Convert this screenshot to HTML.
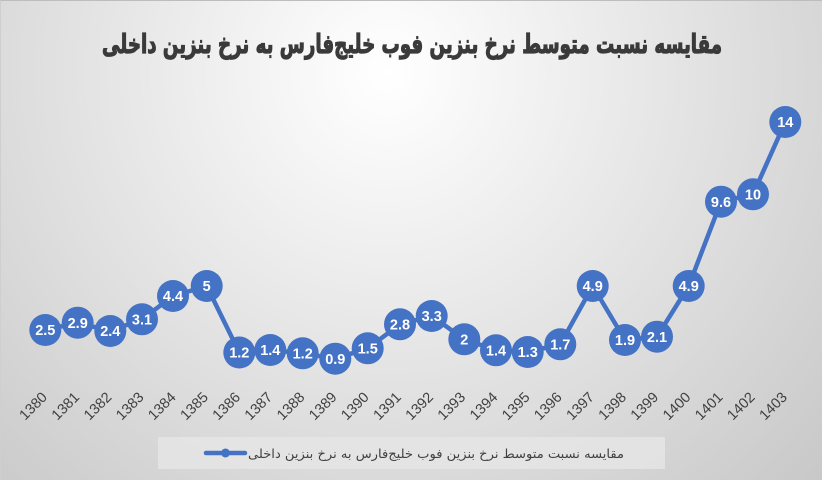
<!DOCTYPE html>
<html><head><meta charset="utf-8"><style>
html,body{margin:0;padding:0;}
body{width:822px;height:480px;overflow:hidden;}
.chart{position:relative;width:822px;height:480px;box-sizing:border-box;border-top:1px solid #bdbdbd;border-left:1px solid #cfcfcf;
background:radial-gradient(circle farthest-corner at 47% 15%, #ffffff 0%, #fbfbfb 8%, #c8c8c8 100%);}
svg{position:absolute;left:0;top:0;}
</style></head><body><div class="chart">
<svg width="822" height="480" viewBox="0 0 822 480" xmlns="http://www.w3.org/2000/svg">
<text x="411" y="52" text-anchor="middle" direction="rtl" font-family="DejaVu Sans, sans-serif" font-weight="bold" font-size="26" fill="#3a3a3a" stroke="#3a3a3a" stroke-width="1.2" textLength="620" lengthAdjust="spacingAndGlyphs">مقایسه نسبت متوسط نرخ بنزین فوب خلیج‌فارس به نرخ بنزین داخلی</text>
<polyline fill="none" stroke="#4472c4" stroke-width="4.5" stroke-linejoin="round" points="44.3,329 76.7,321.7 109.3,330 141,318.3 172,295 205.7,285 238.3,351.5 269.3,349 301.7,352.3 334.3,357.7 366.7,347.3 399,323.3 430.7,315 463.3,338.3 495,349.3 526.7,351 559.3,343.3 591.7,285 624,339 656,335.7 687.7,285 720,200.7 752,193.3 784.3,121"/>
<g fill="#4472c4">
<circle cx="44.3" cy="329" r="16"/><circle cx="76.7" cy="321.7" r="16"/><circle cx="109.3" cy="330" r="16"/><circle cx="141" cy="318.3" r="16"/><circle cx="172" cy="295" r="16"/><circle cx="205.7" cy="285" r="16"/><circle cx="238.3" cy="351.5" r="16"/><circle cx="269.3" cy="349" r="16"/><circle cx="301.7" cy="352.3" r="16"/><circle cx="334.3" cy="357.7" r="16"/><circle cx="366.7" cy="347.3" r="16"/><circle cx="399" cy="323.3" r="16"/><circle cx="430.7" cy="315" r="16"/><circle cx="463.3" cy="338.3" r="16"/><circle cx="495" cy="349.3" r="16"/><circle cx="526.7" cy="351" r="16"/><circle cx="559.3" cy="343.3" r="16"/><circle cx="591.7" cy="285" r="16"/><circle cx="624" cy="339" r="16"/><circle cx="656" cy="335.7" r="16"/><circle cx="687.7" cy="285" r="16"/><circle cx="720" cy="200.7" r="16"/><circle cx="752" cy="193.3" r="16"/><circle cx="784.3" cy="121" r="16"/>
</g>
<g fill="#ffffff" font-family="Liberation Sans, sans-serif" font-weight="bold" font-size="14.5" text-anchor="middle">
<text x="44.3" y="334.2">2.5</text><text x="76.7" y="326.9">2.9</text><text x="109.3" y="335.2">2.4</text><text x="141" y="323.5">3.1</text><text x="172" y="300.2">4.4</text><text x="205.7" y="290.2">5</text><text x="238.3" y="356.7">1.2</text><text x="269.3" y="354.2">1.4</text><text x="301.7" y="357.5">1.2</text><text x="334.3" y="362.9">0.9</text><text x="366.7" y="352.5">1.5</text><text x="399" y="328.5">2.8</text><text x="430.7" y="320.2">3.3</text><text x="463.3" y="343.5">2</text><text x="495" y="354.5">1.4</text><text x="526.7" y="356.2">1.3</text><text x="559.3" y="348.5">1.7</text><text x="591.7" y="290.2">4.9</text><text x="624" y="344.2">1.9</text><text x="656" y="340.9">2.1</text><text x="687.7" y="290.2">4.9</text><text x="720" y="205.9">9.6</text><text x="752" y="198.5">10</text><text x="784.3" y="126.2">14</text>
</g>
<g fill="#404040" font-family="Liberation Sans, sans-serif" font-size="14.5" text-anchor="end">
<text transform="translate(47,397) rotate(-45)">1380</text>
<text transform="translate(79.2,397) rotate(-45)">1381</text>
<text transform="translate(111.4,397) rotate(-45)">1382</text>
<text transform="translate(143.6,397) rotate(-45)">1383</text>
<text transform="translate(175.7,397) rotate(-45)">1384</text>
<text transform="translate(207.9,397) rotate(-45)">1385</text>
<text transform="translate(240.1,397) rotate(-45)">1386</text>
<text transform="translate(272.2,397) rotate(-45)">1387</text>
<text transform="translate(304.4,397) rotate(-45)">1388</text>
<text transform="translate(336.6,397) rotate(-45)">1389</text>
<text transform="translate(368.7,397) rotate(-45)">1390</text>
<text transform="translate(400.9,397) rotate(-45)">1391</text>
<text transform="translate(433.1,397) rotate(-45)">1392</text>
<text transform="translate(465.2,397) rotate(-45)">1393</text>
<text transform="translate(497.4,397) rotate(-45)">1394</text>
<text transform="translate(529.6,397) rotate(-45)">1395</text>
<text transform="translate(561.7,397) rotate(-45)">1396</text>
<text transform="translate(593.9,397) rotate(-45)">1397</text>
<text transform="translate(626.1,397) rotate(-45)">1398</text>
<text transform="translate(658.2,397) rotate(-45)">1399</text>
<text transform="translate(690.4,397) rotate(-45)">1400</text>
<text transform="translate(722.6,397) rotate(-45)">1401</text>
<text transform="translate(754.7,397) rotate(-45)">1402</text>
<text transform="translate(786.9,397) rotate(-45)">1403</text>
</g>
<rect x="157" y="436" width="507" height="32" fill="#e6e6e6" fill-opacity="0.8"/>
<line x1="205" y1="452" x2="244" y2="452" stroke="#4472c4" stroke-width="4.5" stroke-linecap="round"/>
<circle cx="224.5" cy="452" r="4.5" fill="#4472c4"/>
<text x="623" y="457" text-anchor="start" direction="rtl" font-family="DejaVu Sans, sans-serif" font-size="12.5" fill="#404040" textLength="376" lengthAdjust="spacingAndGlyphs">مقایسه نسبت متوسط نرخ بنزین فوب خلیج‌فارس به نرخ بنزین داخلی</text>
</svg>
</div></body></html>
